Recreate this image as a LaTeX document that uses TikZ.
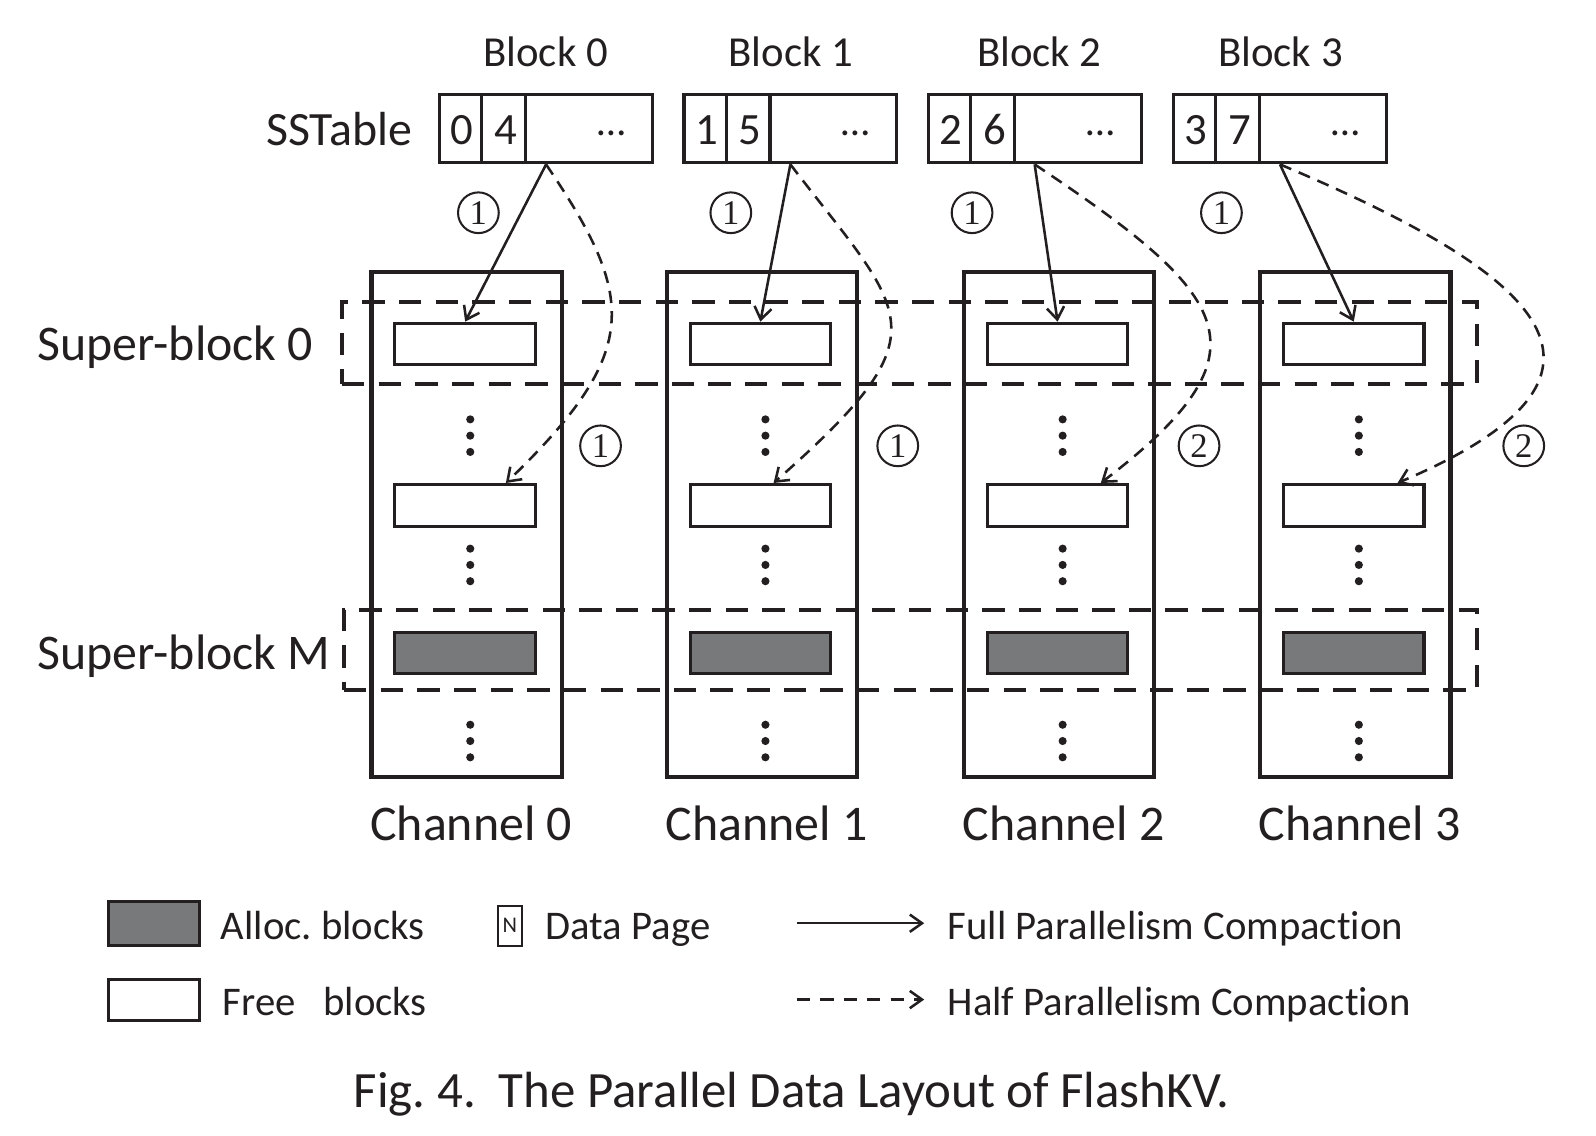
\documentclass[tikz,border=0pt]{standalone}
\usepackage{fontspec}
\setmainfont{Carlito}[Ligatures=NoCommon, RawFeature={-liga;-clig;-calt}]
\newfontfamily\circfont{Liberation Serif}
\usetikzlibrary{arrows.meta}
\definecolor{ink}{RGB}{35,31,32}
\definecolor{alloc}{RGB}{120,121,123}
\begin{document}
\begin{tikzpicture}[x=0.5pt,y=-0.5pt,
  lbl/.style={inner sep=0, outer sep=0, anchor=base, text=ink},
  lblw/.style={lbl, anchor=base west},
  fblock/.style={font=\fontsize{21}{21}\selectfont},
  fbig/.style={font=\fontsize{24.5}{24.5}\selectfont},
  fleg/.style={font=\fontsize{20}{20}\selectfont},
  chanbox/.style={draw=ink, line width=2pt, minimum width=93.5pt, minimum height=248pt, inner sep=0},
  freeblk/.style={draw=ink, line width=1.5pt, fill=white, minimum width=69pt, minimum height=20.5pt, inner sep=0},
  allocblk/.style={freeblk, fill=alloc},
  ssbox/.style={draw=ink, line width=1.5pt, minimum width=104.5pt, minimum height=33.5pt, inner sep=0},
  superblk/.style={draw=ink, line width=2pt, dash pattern=on 11pt off 7pt, inner sep=0},
  circnum/.style={circle, draw=ink, line width=1pt, minimum size=20pt, inner sep=0, text=ink, font=\circfont\fontsize{17}{17}\selectfont},
  full/.style={draw=ink, line width=1.25pt, -{Straight Barb[length=6pt,width=8.5pt]}},
  half/.style={full, dash pattern=on 6pt off 4pt},
]
\useasboundingbox (0,0) rectangle (1568,1116);

% SSTable
\node[lbl, anchor=base east, font=\fontsize{23.5}{23.5}\selectfont] (sstl) at (405,143) {SSTable};
\foreach \i/\L/\a/\b/\bl in {0/432/0/4/536, 1/672/1/5/777, 2/912/2/6/1021, 3/1153/3/7/1258} {
  \node[ssbox] (ss\i) at (\L+104.5,126.5) {};
  \draw[ink, line width=1.5pt] ([xshift=21.5pt]ss\i.north west) -- ([xshift=21.5pt]ss\i.south west);
  \draw[ink, line width=1.5pt] ([xshift=43pt]ss\i.north west) -- ([xshift=43pt]ss\i.south west);
  \node[lbl, font=\fontsize{22}{22}\selectfont] (da\i) at (\L+22,142) {\a};
  \node[lbl, font=\fontsize{22}{22}\selectfont] (db\i) at (\L+65,142) {\b};
  \node[lbl, font=\fontsize{20}{20}\selectfont] (de\i) at (\L+169,133) {…};
  \node[lbl, fblock] (blk\i) at (\bl,65.5) {Block \i};
}

% Channels
\foreach \i/\L in {0/365,1/655,2/947,3/1238} {
  \node[chanbox] (ch\i) at (\L+93.5,515) {};
  \node[lbl, fbig] (chl\i) at (\L+98,826) {Channel \i};
}

% Super-blocks
\node[superblk, minimum width=557.5pt, minimum height=40pt] (sb0) at (893.5,337) {};
\node[superblk, minimum width=556.5pt, minimum height=39.5pt] (sbM) at (894.5,638.5) {};
\node[lblw, fbig] (sb0l) at (37,354) {Super-block 0};
\node[lblw, fbig] (sbMl) at (37,658) {Super-block M};

% Blocks and dots
\foreach \i/\L in {0/365,1/655,2/947,3/1238} {
  \node[freeblk] (top\i) at (\L+92,338) {};
  \node[freeblk] (mid\i) at (\L+92,496.5) {};
  \node[allocblk] (alc\i) at (\L+92,641.5) {};
  \foreach \y in {412,428,444,539,555,571,712,728,744}
    \fill[ink] (\L+97,\y) circle (2pt);
}

% Solid arrows
\foreach \i in {0,1,2,3}
  \draw[full] (ss\i.south) -- (top\i.north);

% Dashed curves
\draw[half] (ss0.south) .. controls +(88,130) and +(135,-130) .. ([xshift=20pt]mid0.north);
\draw[half] (ss1.south) .. controls +(115,150) and +(170,-150) .. ([xshift=6.5pt]mid1.north);
\draw[half] (ss2.south) .. controls +(195,130) and +(170,-130) .. ([xshift=21.25pt]mid2.north);
\draw[half] (ss3.south) .. controls +(262,110) and +(250,-106) .. ([xshift=21.5pt]mid3.north);

% Circled numbers
\node[circnum] (n1a) at (470,209) {1};
\node[circnum] (n1b) at (718,209) {1};
\node[circnum] (n1c) at (955,209) {1};
\node[circnum] (n1d) at (1200,209) {1};
\node[circnum] (n2a) at (590,438) {1};
\node[circnum] (n2b) at (882,438) {1};
\node[circnum] (n2c) at (1178,438) {2};
\node[circnum] (n2d) at (1497,438) {2};

% Legend
\node[allocblk, minimum width=44.5pt, minimum height=21.5pt] (lgA) at (151.5,907.5) {};
\node[freeblk, minimum width=44.5pt, minimum height=20.5pt] (lgF) at (151.5,982.5) {};
\node[lblw, fleg] (lgAt) at (217,923) {Alloc.\ blocks};
\node[lblw, fleg] (lgFt) at (219,998) {Free\ \ \ blocks};
\node[draw=ink, line width=1pt, minimum width=12pt, minimum height=19.5pt, inner sep=0, text=ink, font=\fontsize{11}{11}\selectfont] (lgN) at (501,909.5) {N};
\node[lblw, fleg] (lgNt) at (536,923) {Data Page};
\coordinate (fa1) at (783,907);
\coordinate (fa2) at (908,907);
\coordinate (ha1) at (783,982);
\coordinate (ha2) at (908,982);
\draw[full] (fa1) -- (fa2);
\draw[half, dash pattern=on 6.5pt off 5pt] (ha1) -- (ha2);
\node[lblw, fleg] (lgFu) at (931,923) {Full Parallelism Compaction};
\node[lblw, fleg] (lgHa) at (931,998) {Half Parallelism Compaction};

% Caption
\node[lbl, font=\fontsize{25}{25}\selectfont] (cap) at (778,1088) {Fig.\ 4.\ \ The Parallel Data Layout of FlashKV.};
\end{tikzpicture}
\end{document}
